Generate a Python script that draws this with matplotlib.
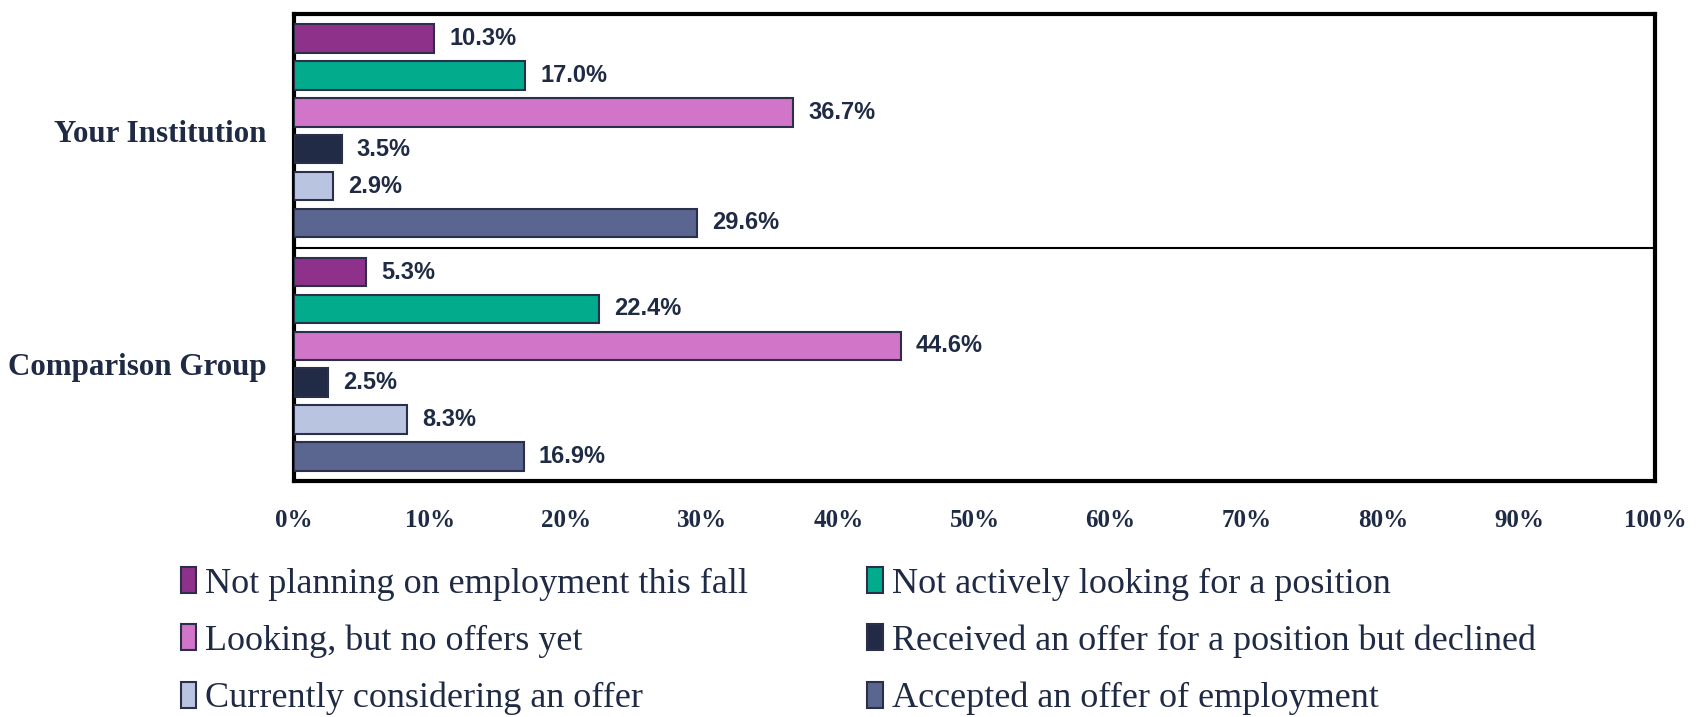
import matplotlib
matplotlib.use("Agg")
import matplotlib.pyplot as plt
from matplotlib.patches import Patch
from matplotlib import font_manager

groups = ["Your Institution", "Comparison Group"]
series = [
    "Not planning on employment this fall",
    "Not actively looking for a position",
    "Looking, but no offers yet",
    "Received an offer for a position but declined",
    "Currently considering an offer",
    "Accepted an offer of employment",
]
your_inst = [10.3, 17.0, 36.7, 3.5, 2.9, 29.6]
comparison = [5.3, 22.4, 44.6, 2.5, 8.3, 16.9]
colors = ["#8E318A", "#02AB8C", "#D075C8", "#212B45", "#B8C4E0", "#5A6590"]
xticks = [0, 10, 20, 30, 40, 50, 60, 70, 80, 90, 100]
xticklabels = [f"{v}%" for v in xticks]

navy = "#1F2A44"
edge = "#2B2F4A"

names = {f.name for f in font_manager.fontManager.ttflist}
label_font = "Liberation Sans Narrow" if "Liberation Sans Narrow" in names else "Liberation Sans"
serif = "Liberation Serif"

fig = plt.figure(figsize=(17.05, 7.17), dpi=100)
ax = fig.add_axes([0.1724, 0.3291, 0.7983, 0.6514])

n = len(series)
step = 0.158
height = 0.122
values = [your_inst, comparison]
for gi, vals in enumerate(values):
    for si in range(n):
        y = gi + (si - (n - 1) / 2) * step
        ax.barh(y, vals[si], height=height, color=colors[si], edgecolor=edge, linewidth=1.5, zorder=3)
        ax.text(vals[si] + 1.1, y, f"{vals[si]:.1f}%", va="center", ha="left",
                fontsize=17, fontweight="bold", color=navy, family=label_font)

ax.set_xlim(0, 100)
ax.set_ylim(1.5, -0.5)
ax.axhline(0.5, color="black", linewidth=1.5)
ax.set_yticks([0, 1])
ax.set_yticklabels(groups, fontsize=22.3, fontweight="bold", color=navy, family=serif)
ax.set_xticks(xticks)
ax.set_xticklabels(xticklabels, fontsize=18, fontweight="bold", color=navy, family=serif)
ax.tick_params(axis="both", length=0)
ax.tick_params(axis="x", pad=20)
ax.tick_params(axis="y", pad=20)
for s in ax.spines.values():
    s.set_linewidth(3)
    s.set_color("black")

handles = [Patch(facecolor=colors[i], edgecolor=edge, linewidth=1.5, label=series[i]) for i in range(n)]
order = [0, 2, 4, 1, 3, 5]
fig.legend([handles[i] for i in order], [series[i] for i in order], ncol=2,
           loc="upper left", bbox_to_anchor=(0.106, 0.209), frameon=False,
           prop={"family": serif, "size": 26}, handlelength=0.43, handleheight=0.72,
           handletextpad=0.25, columnspacing=3.3, labelspacing=0.66, labelcolor=navy,
           borderaxespad=0, borderpad=0)

fig.savefig("out.png", dpi=100, facecolor="white")
